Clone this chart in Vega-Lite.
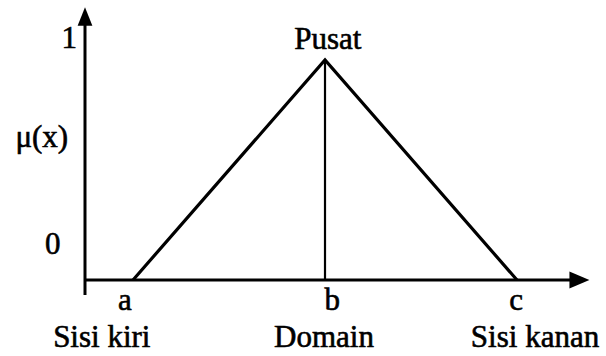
{
  "$schema": "https://vega.github.io/schema/vega-lite/v6.json",
  "width": 606,
  "height": 356,
  "padding": 0,
  "autosize": {"type": "fit", "contains": "padding"},
  "background": "white",
  "config": {"view": {"stroke": null}},
  "datasets": {
    "axes": [
      {"x": 0, "y": -0.068, "x2": 0, "y2": 1.19},
      {"x": 0, "y": 0, "x2": 10.3, "y2": 0}
    ],
    "center": [{"x": 5, "y": 0, "x2": 5, "y2": 1}],
    "tri": [
      {"order": 1, "x": 1, "y": 0},
      {"order": 2, "x": 5, "y": 1},
      {"order": 3, "x": 9, "y": 0}
    ],
    "arrowUp": [{"x": 0, "y": 1.198}],
    "arrowRight": [{"x": 10.3, "y": 0}],
    "labels": [
      {"label": "1", "x": -0.33, "y": 1.055},
      {"label": "μ(x)", "x": -0.9, "y": 0.605},
      {"label": "0", "x": -0.67, "y": 0.118},
      {"label": "Pusat", "x": 5.06, "y": 1.05},
      {"label": "a", "x": 0.83, "y": -0.136},
      {"label": "b", "x": 5.15, "y": -0.136},
      {"label": "c", "x": 8.98, "y": -0.136},
      {"label": "Sisi kiri", "x": 0.35, "y": -0.305},
      {"label": "Domain", "x": 4.98, "y": -0.305},
      {"label": "Sisi kanan", "x": 9.375, "y": -0.305}
    ]
  },
  "encoding": {
    "x": {"type": "quantitative", "scale": {"domain": [-1.7708, 10.854], "nice": false, "zero": false}, "axis": null},
    "y": {"type": "quantitative", "scale": {"domain": [-0.3455, 1.2727], "nice": false, "zero": false}, "axis": null}
  },
  "layer": [
    {
      "data": {"name": "axes"},
      "mark": {"type": "rule", "color": "black", "strokeWidth": 3},
      "encoding": {
        "x": {"field": "x", "type": "quantitative"},
        "y": {"field": "y", "type": "quantitative"},
        "x2": {"field": "x2"},
        "y2": {"field": "y2"}
      }
    },
    {
      "data": {"name": "center"},
      "mark": {"type": "rule", "color": "black", "strokeWidth": 2.2},
      "encoding": {
        "x": {"field": "x", "type": "quantitative"},
        "y": {"field": "y", "type": "quantitative"},
        "x2": {"field": "x2"},
        "y2": {"field": "y2"}
      }
    },
    {
      "data": {"name": "tri"},
      "mark": {"type": "line", "color": "black", "strokeWidth": 3.2, "strokeJoin": "miter"},
      "encoding": {
        "x": {"field": "x", "type": "quantitative"},
        "y": {"field": "y", "type": "quantitative"},
        "order": {"field": "order"}
      }
    },
    {
      "data": {"name": "arrowUp"},
      "mark": {"type": "point", "shape": "M0,-1L-0.8,1L0.8,1Z", "filled": true, "color": "black", "size": 340, "opacity": 1},
      "encoding": {
        "x": {"field": "x", "type": "quantitative"},
        "y": {"field": "y", "type": "quantitative"}
      }
    },
    {
      "data": {"name": "arrowRight"},
      "mark": {"type": "point", "shape": "M1,0L-1,-0.85L-1,0.85Z", "filled": true, "color": "black", "size": 400, "opacity": 1},
      "encoding": {
        "x": {"field": "x", "type": "quantitative"},
        "y": {"field": "y", "type": "quantitative"}
      }
    },
    {
      "data": {"name": "labels"},
      "mark": {"type": "text", "font": "Liberation Serif", "fontSize": 31, "color": "black", "stroke": "black", "strokeWidth": 0.6, "align": "center", "baseline": "alphabetic"},
      "encoding": {
        "x": {"field": "x", "type": "quantitative"},
        "y": {"field": "y", "type": "quantitative"},
        "text": {"field": "label"}
      }
    }
  ]
}
